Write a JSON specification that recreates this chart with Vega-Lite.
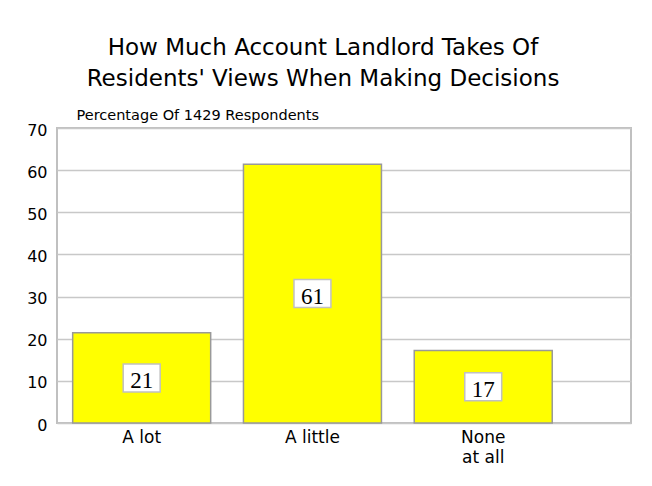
{
  "$schema": "https://vega.github.io/schema/vega-lite/v6.json",
  "width": 574,
  "height": 295,
  "autosize": "none",
  "padding": {"left": 57, "top": 128, "right": 21, "bottom": 63},
  "background": "white",
  "title": {
    "text": ["How Much Account Landlord Takes Of", "Residents' Views When Making Decisions"],
    "font": "DejaVu Sans",
    "fontSize": 23,
    "fontWeight": "normal",
    "color": "black",
    "anchor": "middle",
    "frame": "group",
    "dx": -21,
    "lineHeight": 31,
    "offset": 16
  },
  "config": {
    "view": {"stroke": "#c0c0c0", "strokeWidth": 2},
    "axis": {
      "labelFont": "DejaVu Sans",
      "labelFontSize": 16,
      "labelColor": "black",
      "ticks": false,
      "domain": false
    }
  },
  "data": {
    "values": [
      {"response": "A lot", "percent": 21.4},
      {"response": "A little", "percent": 61.4},
      {"response": "None at all", "percent": 17.2}
    ]
  },
  "layer": [
    {
      "mark": {"type": "bar", "fill": "#ffff00", "stroke": "#999999", "strokeWidth": 1.5},
      "encoding": {
        "x": {
          "field": "response",
          "type": "nominal",
          "sort": null,
          "scale": {"paddingInner": 0.192, "paddingOuter": 0.2765, "align": 0.166},
          "axis": {
            "title": null,
            "labelAngle": 0,
            "labelFontSize": 17,
            "labelPadding": 6,
            "labelLineHeight": 20,
            "labelBaseline": "top",
            "labelExpr": "datum.value == 'None at all' ? ['None', 'at all'] : datum.label"
          }
        },
        "y": {
          "field": "percent",
          "type": "quantitative",
          "scale": {"domain": [0, 70], "nice": false},
          "axis": {
            "title": "Percentage Of 1429 Respondents",
            "titleAngle": 0,
            "titleAlign": "left",
            "titleBaseline": "alphabetic",
            "titleX": 19,
            "titleY": -9,
            "titleFont": "DejaVu Sans",
            "titleFontSize": 14.5,
            "titleFontWeight": "normal",
            "titleColor": "black",
            "values": [0, 10, 20, 30, 40, 50, 60, 70],
            "labelPadding": 10,
            "labelOffset": 2,
            "gridColor": "#c8c8c8",
            "gridWidth": 1.5
          }
        }
      }
    },
    {
      "mark": {
        "type": "point",
        "shape": "M-1.32,-1H1.32V1H-1.32Z",
        "size": 784,
        "filled": true,
        "fill": "white",
        "stroke": "#c0c0c0",
        "strokeWidth": 1.5,
        "opacity": 1
      },
      "encoding": {
        "x": {"field": "response", "type": "nominal", "sort": null},
        "y": {"field": "percent", "type": "quantitative", "scale": {"domain": [0, 140], "nice": false}, "axis": null}
      }
    },
    {
      "mark": {"type": "text", "font": "Liberation Serif", "fontSize": 23, "baseline": "middle", "dy": 3, "color": "black"},
      "encoding": {
        "x": {"field": "response", "type": "nominal", "sort": null},
        "y": {"field": "percent", "type": "quantitative", "scale": {"domain": [0, 140], "nice": false}, "axis": null},
        "text": {"field": "percent", "type": "quantitative", "format": ".0f"}
      }
    }
  ],
  "resolve": {"scale": {"y": "independent"}}
}
